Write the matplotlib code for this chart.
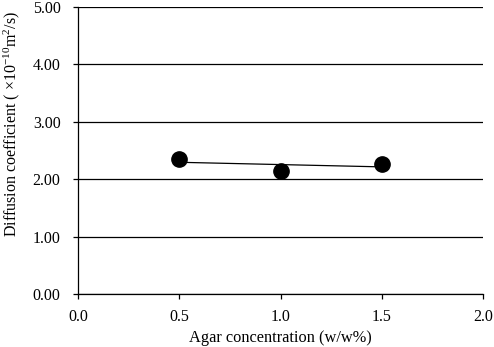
import numpy as np
import matplotlib
matplotlib.use("Agg")
import matplotlib.pyplot as plt

plt.rcParams['font.family'] = ['Liberation Serif', 'DejaVu Serif']
plt.rcParams['mathtext.fontset'] = 'custom'
plt.rcParams['mathtext.rm'] = 'Liberation Serif'
plt.rcParams['mathtext.it'] = 'Liberation Serif:italic'

agar = [0.5, 1.0, 1.5]
diffusion = [2.35, 2.14, 2.27]
x_ticks = [0.0, 0.5, 1.0, 1.5, 2.0]
y_ticks = [0.0, 1.0, 2.0, 3.0, 4.0, 5.0]

fig = plt.figure(figsize=(4.94, 3.47), dpi=100)
ax = fig.add_axes([0.158, 0.153, 0.820, 0.827])

coef = np.polyfit(agar, diffusion, 1)
xf = np.array([min(agar), max(agar)])
ax.plot(xf, np.polyval(coef, xf), color='black', lw=0.9, zorder=2)
ax.plot(agar, diffusion, 'o', color='black', markersize=11, zorder=3, clip_on=False)

ax.set_xlim(0, 2.0)
ax.set_ylim(0, 5.0)
ax.set_xticks(x_ticks)
ax.set_xticklabels([f"{v:.1f}" for v in x_ticks])
ax.set_yticks(y_ticks)
ax.set_yticklabels([f"{v:.2f}" for v in y_ticks])
ax.yaxis.grid(True, color='black', lw=0.9)
ax.set_axisbelow(True)
for s in ['top', 'right']:
    ax.spines[s].set_visible(False)
for s in ['left', 'bottom']:
    ax.spines[s].set_color('black')
    ax.spines[s].set_linewidth(0.9)
ax.tick_params(axis='both', direction='out', length=3.6, width=0.9, labelsize=11.5, colors='black')
ax.tick_params(axis='x', pad=7)
ax.tick_params(axis='y', pad=9)
ax.set_xlabel("Agar concentration (w/w%)", fontsize=11.8, labelpad=4)
ax.set_ylabel("Diffusion coefficient ( ×10$^{-10}$m$^{2}$/s)", fontsize=11.5)
ax.yaxis.set_label_coords(-0.138, 0.592)

fig.savefig("out.png", dpi=100)
